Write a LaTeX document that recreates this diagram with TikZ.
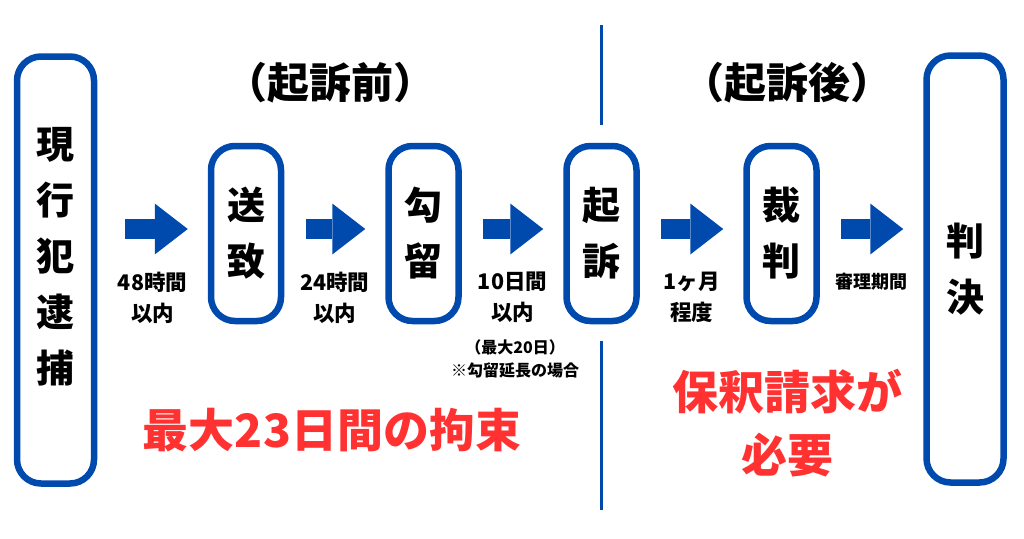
\documentclass[tikz,border=0pt]{standalone}
\usepackage{fontspec}
\setmainfont{Noto Sans CJK JP}
\usetikzlibrary{positioning,arrows.meta}
\definecolor{canvablue}{HTML}{004AAD}
\definecolor{alertred}{HTML}{FF3131}

\begin{document}
\begin{tikzpicture}[
  x=1pt, y=-1pt,
  font=\bfseries,
  stage/.style={draw=canvablue, line width=6.5pt, rounded corners=24pt, align=center, inner sep=0pt,
    minimum width=70pt, minimum height=175pt, font=\fontsize{38}{56}\selectfont\bfseries},
  longstage/.style={stage, minimum width=77pt, minimum height=427pt},
  vtext/.style={align=center, inner sep=0pt, font=\fontsize{38}{56}\selectfont\bfseries},
  flow/.style={canvablue, line width=20pt, -{Triangle[length=33pt, width=51pt, line width=0pt]},
    shorten <=21.5pt, shorten >=20pt},
  lbl/.style={text=black, align=center, inner sep=0pt, font=\fontsize{21.5}{31}\selectfont\bfseries},
  note/.style={lbl, font=\fontsize{16}{23}\selectfont\bfseries},
  heading/.style={inner sep=0pt, font=\fontsize{42}{50}\selectfont\bfseries},
  warn/.style={text=alertred, align=center, inner sep=0pt, font=\fontsize{46}{63}\selectfont\bfseries},
  divider/.style={draw=canvablue, line width=3pt}
]
\useasboundingbox (0,0) rectangle (1024,538);

% stages of the procedure
\node[longstage, label={[vtext, yshift=13pt]center:{現\\行\\犯\\逮\\捕}}] (arrest) at (55.5,270) {};
\node[stage] (refer)   at (246,233.5)   {送\\致};
\node[stage] (detain)  at (423.5,233.5) {勾\\留};
\node[stage] (indict)  at (601.5,233.5) {起\\訴};
\node[stage] (trial)   at (781.5,233.5) {裁\\判};
\node[longstage] (verdict) at (965,269) {判\\決};

% headings and divider
\node[heading] (prehead)  at (330,83) {（起訴前）};
\node[heading] (posthead) at (787,83) {（起訴後）};
\coordinate (divtop) at (601.5,25);
\coordinate (divbot) at (601.5,510);
\draw[divider, shorten >=18pt] (divtop) -- (indict.north);
\draw[divider, shorten <=17pt] (indict.south) -- (divbot);

% arrows with time limits
\coordinate (row) at (0,229);
\draw[flow, shorten <=28pt] (arrest.east |- row) -- node[lbl, yshift=-68.5pt] (lim1) {48時間\\以内} (refer.west |- row);
\draw[flow] (refer.east |- row) -- node[lbl, yshift=-68.5pt] (lim2) {24時間\\以内} (detain.west |- row);
\draw[flow] (detain.east |- row) -- node[lbl, yshift=-68.5pt] (lim3) {10日間\\以内} (indict.west |- row);
\draw[flow] (indict.east |- row) -- node[lbl, yshift=-68.5pt] (lim4) {1ヶ月\\程度} (trial.west |- row);
\draw[flow] (trial.east |- row) -- node[lbl, yshift=-53pt, font=\fontsize{18}{24}\selectfont\bfseries] (lim5) {審理期間} (verdict.west |- row);
\node[note] (extnote) at (515,358.5) {（最大20日）\\※勾留延長の場合};

% red remarks
\node[warn] (custody) at (332,430)   {最大23日間の拘束};
\node[warn] (bail)    at (787,423.5) {保釈請求が\\必要};
\end{tikzpicture}
\end{document}
